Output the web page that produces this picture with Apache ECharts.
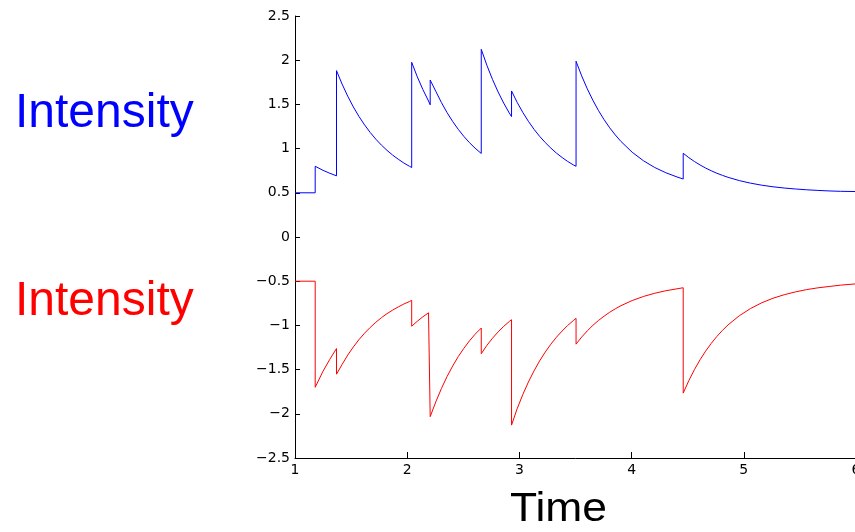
<!DOCTYPE html>
<html>
<head>
<meta charset="utf-8">
<script src="https://cdn.jsdelivr.net/npm/echarts@6/dist/echarts.min.js"></script>
<style>
html,body{margin:0;padding:0;background:#fff;}
#chart{width:855px;height:532px;}
</style>
</head>
<body>
<div id="chart"></div>
<script>
// Time samples (duplicated times mark the instantaneous jumps)
const times = [
  1.0, 1.18,
  1.18, 1.25, 1.31, 1.37,
  1.37, 1.42, 1.47, 1.52, 1.57, 1.62, 1.67, 1.72, 1.77, 1.82, 1.87, 1.92, 1.97, 2.02, 2.04,
  2.04, 2.09, 2.14, 2.19, 2.205,
  2.205, 2.255, 2.305, 2.355, 2.405, 2.455, 2.505, 2.555, 2.605, 2.66,
  2.66, 2.71, 2.76, 2.81, 2.86, 2.91, 2.93,
  2.93, 2.98, 3.03, 3.08, 3.13, 3.18, 3.23, 3.28, 3.33, 3.38, 3.43, 3.48, 3.505,
  3.505, 3.555, 3.605, 3.655, 3.705, 3.755, 3.805, 3.855, 3.905, 4.005, 4.105, 4.205, 4.305, 4.405, 4.46,
  4.46, 4.51, 4.56, 4.61, 4.66, 4.71, 4.76, 4.81, 4.86, 4.96, 5.06, 5.16, 5.26, 5.36, 5.46, 5.56, 5.66, 5.76, 5.86, 6.0
];
const blueIntensity = [
  0.5, 0.5,
  0.8, 0.754, 0.721, 0.692,
  1.882, 1.729, 1.593, 1.471, 1.364, 1.268, 1.183, 1.107, 1.040, 0.980, 0.927, 0.880, 0.837, 0.800, 0.786,
  1.976, 1.812, 1.667, 1.538, 1.495,
  1.775, 1.648, 1.521, 1.408, 1.307, 1.218, 1.138, 1.067, 1.005, 0.945,
  2.123, 1.943, 1.783, 1.641, 1.515, 1.402, 1.362,
  1.652, 1.523, 1.410, 1.309, 1.219, 1.139, 1.069, 1.006, 0.949, 0.900, 0.855, 0.816, 0.800,
  1.988, 1.823, 1.676, 1.546, 1.430, 1.327, 1.235, 1.154, 1.081, 0.959, 0.863, 0.787, 0.727, 0.679, 0.656,
  0.947, 0.898, 0.854, 0.815, 0.780, 0.749, 0.721, 0.697, 0.675, 0.638, 0.609, 0.586, 0.568, 0.554, 0.543, 0.534, 0.527, 0.521, 0.517, 0.514
];
const redIntensity = [
  -0.5, -0.5,
  -1.7, -1.518, -1.384, -1.262,
  -1.552, -1.441, -1.336, -1.244, -1.161, -1.088, -1.023, -0.965, -0.913, -0.867, -0.827, -0.791, -0.758, -0.730, -0.717,
  -1.009, -0.953, -0.902, -0.858, -0.840,
  -2.032, -1.865, -1.714, -1.579, -1.460, -1.353, -1.259, -1.175, -1.100, -1.030,
  -1.320, -1.226, -1.146, -1.074, -1.011, -0.956, -0.936,
  -2.128, -1.943, -1.783, -1.641, -1.515, -1.402, -1.302, -1.213, -1.134, -1.064, -1.001, -0.946, -0.920,
  -1.212, -1.132, -1.062, -0.999, -0.944, -0.895, -0.851, -0.812, -0.777, -0.719, -0.673, -0.637, -0.608, -0.586, -0.574,
  -1.766, -1.625, -1.500, -1.389, -1.291, -1.203, -1.125, -1.056, -0.994, -0.891, -0.809, -0.744, -0.693, -0.653, -0.621, -0.595, -0.575, -0.560, -0.545, -0.530
];
const xTicks = [1, 2, 3, 4, 5, 6];
const yTicks = [-2.5, -2, -1.5, -1, -0.5, 0, 0.5, 1, 1.5, 2, 2.5];
const seriesLabel = 'Intensity';
const xLabel = 'Time';

const FONT = '"Liberation Sans", Arial, Helvetica, sans-serif';
const TICK_FONT = '"DejaVu Sans", "Liberation Sans", sans-serif';
const fmt = v => {
  const s = String(Math.abs(v));
  return v < 0 ? '\u2212' + s : s;
};

const chart = echarts.init(document.getElementById('chart'), null, {renderer: 'canvas'});
chart.setOption({
  animation: false,
  backgroundColor: '#ffffff',
  grid: {left: 295, right: -1, top: 16, bottom: 74, containLabel: false, outerBoundsMode: 'none'},
  xAxis: {
    type: 'value',
    min: xTicks[0], max: xTicks[xTicks.length - 1], interval: 1,
    axisLine: {show: true, onZero: false, lineStyle: {color: '#000', width: 1}},
    axisTick: {show: true, inside: true, length: 6, lineStyle: {color: '#000'}},
    axisLabel: {color: '#000', fontFamily: TICK_FONT, fontSize: 14, margin: 5, formatter: fmt, showMaxLabel: true, showMinLabel: true},
    splitLine: {show: false}
  },
  yAxis: {
    type: 'value',
    min: yTicks[0], max: yTicks[yTicks.length - 1], interval: 0.5,
    axisLine: {show: true, onZero: false, lineStyle: {color: '#000', width: 1}},
    axisTick: {show: true, inside: true, length: 5, lineStyle: {color: '#000'}},
    axisLabel: {color: '#000', fontFamily: TICK_FONT, fontSize: 14, margin: 5, formatter: fmt, showMaxLabel: true, showMinLabel: true},
    splitLine: {show: false}
  },
  series: [
    {
      type: 'line', name: 'blue',
      data: times.map((t, i) => [t, blueIntensity[i]]),
      showSymbol: false, symbol: 'none',
      lineStyle: {color: '#0000ff', width: 1},
      clip: false
    },
    {
      type: 'line', name: 'red',
      data: times.map((t, i) => [t, redIntensity[i]]),
      showSymbol: false, symbol: 'none',
      lineStyle: {color: '#ff0000', width: 1},
      clip: false
    }
  ],
  graphic: [
    {type: 'text', x: 15, y: 90, style: {text: seriesLabel, font: '48px ' + FONT, fill: '#0000ff', textVerticalAlign: 'top'}},
    {type: 'text', x: 15, y: 278, style: {text: seriesLabel, font: '48px ' + FONT, fill: '#ff0000', textVerticalAlign: 'top'}},
    {type: 'text', x: 510, y: 490, scaleX: 1.11, style: {text: xLabel, font: '40px ' + FONT, fill: '#000', textVerticalAlign: 'top'}}
  ]
});
</script>
</body>
</html>
